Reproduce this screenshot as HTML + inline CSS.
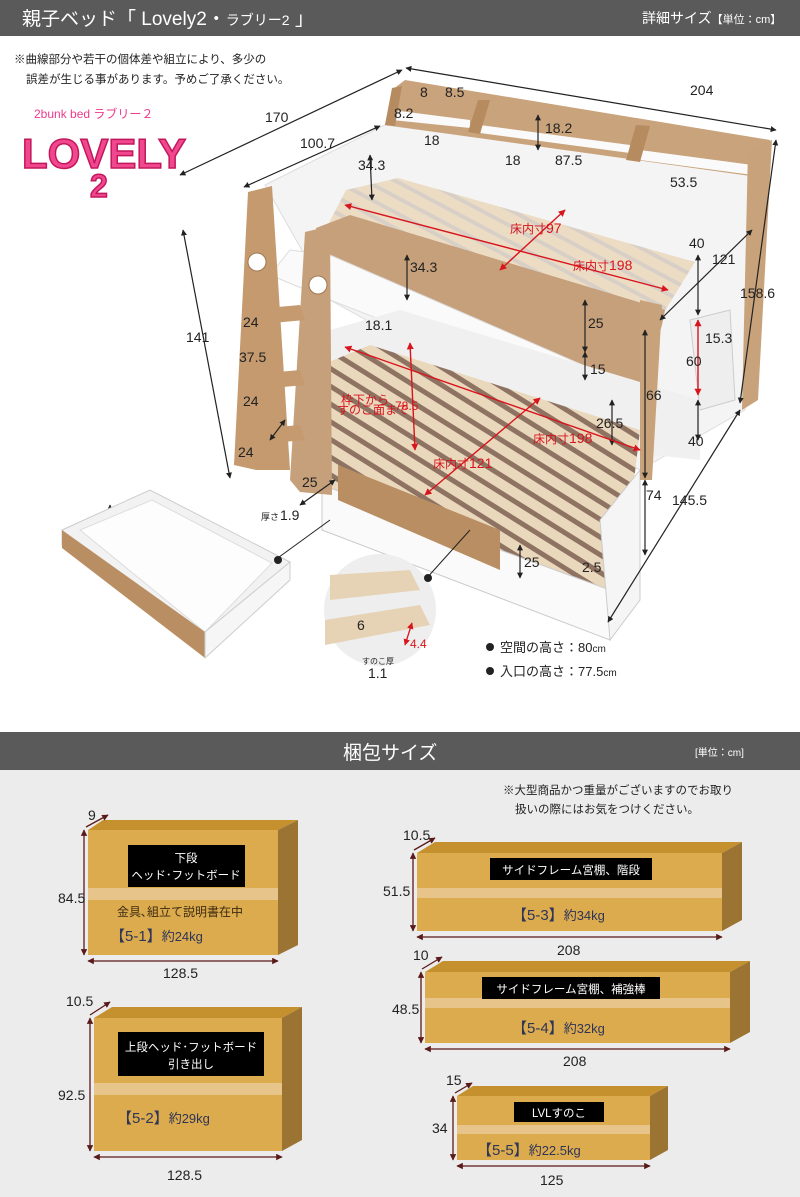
<!DOCTYPE html>
<html><head><meta charset="utf-8"><style>
html,body{margin:0;padding:0;background:#fff}
svg{display:block}
text{font-family:"Liberation Sans Narrow","Liberation Sans","Noto Sans CJK JP",sans-serif;fill:#222}
.j{font-family:"Liberation Sans","Noto Sans CJK JP",sans-serif}
.d{font-size:14px}
.r{fill:#d8141c;font-size:12px}
</style></head><body>
<svg width="800" height="1197" viewBox="0 0 800 1197" xmlns="http://www.w3.org/2000/svg">
<defs>
<marker id="a" viewBox="0 0 10 10" refX="9" refY="5" markerWidth="5" markerHeight="5" orient="auto-start-reverse"><path d="M0,0L10,5L0,10z" fill="#222"/></marker>
<marker id="ar" viewBox="0 0 10 10" refX="9" refY="5" markerWidth="5" markerHeight="5" orient="auto-start-reverse"><path d="M0,0L10,5L0,10z" fill="#d8141c"/></marker>
<marker id="am" viewBox="0 0 10 10" refX="9" refY="5" markerWidth="5" markerHeight="5" orient="auto-start-reverse"><path d="M0,0L10,5L0,10z" fill="#5a1a1a"/></marker>
<pattern id="slat" width="14" height="14" patternUnits="userSpaceOnUse" patternTransform="rotate(-62)"><rect width="14" height="14" fill="#d8d0c6"/><rect width="10" height="14" fill="#ecdcc4"/></pattern>
<pattern id="slat2" width="15" height="15" patternUnits="userSpaceOnUse" patternTransform="rotate(-58)"><rect width="15" height="15" fill="#8e7362"/><rect width="10" height="15" fill="#ead8bd"/></pattern>
</defs>
<!-- header -->
<rect x="0" y="0" width="800" height="36" fill="#5a5a5a"/>
<text x="22" y="25" class="j" font-size="19" style="fill:#fff">親子ベッド「 Lovely2・<tspan font-size="14">ラブリー2</tspan> 」</text>
<text x="642" y="23" class="j" font-size="14" style="fill:#fff">詳細サイズ<tspan font-size="11">【単位：cm】</tspan></text>
<text x="14" y="63" class="j" font-size="11.5">※曲線部分や若干の個体差や組立により、多少の</text>
<text x="26" y="83" class="j" font-size="11.5">誤差が生じる事があります。予めご了承ください。</text>
<text x="34" y="118" class="j" font-size="12" style="fill:#ee3a8c">2bunk bed  ラブリー２</text>
<text x="22" y="168" font-size="42" font-weight="bold" style="fill:#f0478f;stroke:#c2185b;stroke-width:1.5" font-family="Liberation Sans">LOVELY</text>
<text x="90" y="197" font-size="32" font-weight="bold" style="fill:#f0478f;stroke:#c2185b;stroke-width:1.5" font-family="Liberation Sans">2</text>

<!-- bed drawing -->
<polygon points="265,185 385,125 765,175 745,410 640,470 330,300" fill="#f4f4f4" stroke="#ddd"/>
<!-- headboard -->
<polygon points="385,125 392,90 405,80 770,140 765,178" fill="#c9a37c"/>
<polygon points="392,110 470,120 470,128 392,120" fill="#fafafa"/>
<polygon points="480,125 630,145 630,153 480,133" fill="#fafafa"/>
<polygon points="640,150 760,166 760,176 640,160" fill="#fafafa"/>
<polygon points="385,125 392,88 402,86 395,126" fill="#b68b5f"/>
<polygon points="468,132 478,100 490,100 480,134" fill="#b68b5f"/>
<polygon points="626,160 636,125 650,126 640,162" fill="#b68b5f"/>
<polygon points="748,150 772,140 758,400 742,410" fill="#c8a27a"/>
<polygon points="690,320 730,310 735,400 700,410" fill="#eee" stroke="#ccc"/>
<!-- upper slats -->
<polygon points="346,190 398,178 695,262 650,335 320,240" fill="url(#slat)"/>
<!-- upper front wood rail -->
<polygon points="316,228 350,215 665,310 662,325 640,395 330,283" fill="#c6a07a"/>
<polygon points="290,250 330,255 640,390 640,420 330,300 270,275" fill="#fafafa" stroke="#ddd"/>
<!-- lower back wall -->
<polygon points="330,330 400,310 700,400 700,460 330,420" fill="#f0f0f0"/>
<!-- lower slats -->
<polygon points="322,365 370,345 640,430 620,600 565,592 322,485" fill="url(#slat2)"/>
<!-- lower front rail -->
<polygon points="322,485 610,590 610,640 322,530" fill="#fafafa" stroke="#ccc"/>
<polygon points="338,465 500,530 500,570 338,500" fill="#b98e62"/>
<polygon points="600,520 640,470 640,600 610,640" fill="#f5f5f5" stroke="#ccc"/>
<!-- right post -->
<polygon points="640,300 662,305 652,480 640,480" fill="#c8a27a"/>
<!-- ladder -->
<polygon points="248,192 272,186 290,470 256,470 234,465" fill="#c49a6e"/>
<polygon points="305,232 330,226 332,495 300,492 290,480" fill="#c6a07a"/>
<circle cx="257" cy="262" r="9" fill="#fff" stroke="#a07850"/>
<circle cx="318" cy="285" r="9" fill="#fff" stroke="#a07850"/>
<polygon points="245,310 300,305 305,320 250,325" fill="#c49a6e"/>
<polygon points="245,375 300,370 305,385 250,390" fill="#c49a6e"/>
<polygon points="245,430 300,425 305,440 250,445" fill="#c49a6e"/>

<!-- dimension lines -->
<g stroke="#222" stroke-width="1.2" fill="none">
<line x1="180" y1="175" x2="402" y2="70" marker-start="url(#a)" marker-end="url(#a)"/>
<line x1="406" y1="68" x2="776" y2="130" marker-start="url(#a)" marker-end="url(#a)"/>
<line x1="244" y1="187" x2="380" y2="126" marker-start="url(#a)" marker-end="url(#a)"/>
<line x1="183" y1="230" x2="230" y2="478" marker-start="url(#a)" marker-end="url(#a)"/>
<line x1="776" y1="140" x2="740" y2="403" marker-start="url(#a)" marker-end="url(#a)"/>
<line x1="740" y1="410" x2="608" y2="622" marker-start="url(#a)" marker-end="url(#a)"/>
<line x1="370" y1="155" x2="372" y2="200" marker-start="url(#a)" marker-end="url(#a)"/>
<line x1="407" y1="255" x2="407" y2="300" marker-start="url(#a)" marker-end="url(#a)"/>
<line x1="538" y1="115" x2="538" y2="150" marker-start="url(#a)" marker-end="url(#a)"/>
<line x1="585" y1="300" x2="585" y2="352" marker-start="url(#a)" marker-end="url(#a)"/>
<line x1="585" y1="352" x2="585" y2="380" marker-start="url(#a)" marker-end="url(#a)"/>
<line x1="698" y1="255" x2="698" y2="315" marker-start="url(#a)" marker-end="url(#a)"/>
<line x1="698" y1="400" x2="698" y2="440" marker-start="url(#a)" marker-end="url(#a)"/>
<line x1="645" y1="330" x2="645" y2="478" marker-start="url(#a)" marker-end="url(#a)"/>
<line x1="645" y1="480" x2="645" y2="555" marker-start="url(#a)" marker-end="url(#a)"/>
<line x1="660" y1="320" x2="752" y2="230" marker-start="url(#a)" marker-end="url(#a)"/>
<line x1="612" y1="400" x2="612" y2="445" marker-start="url(#a)" marker-end="url(#a)"/>
<line x1="520" y1="545" x2="520" y2="578" marker-start="url(#a)" marker-end="url(#a)"/>
<line x1="300" y1="505" x2="335" y2="480" marker-start="url(#a)" marker-end="url(#a)"/>
<line x1="270" y1="440" x2="285" y2="420" marker-start="url(#a)" marker-end="url(#a)"/>
<line x1="110" y1="505" x2="110" y2="525" marker-start="url(#a)" marker-end="url(#a)"/>
<line x1="185" y1="605" x2="250" y2="545" marker-start="url(#a)" marker-end="url(#a)"/>
<line x1="95" y1="540" x2="205" y2="615" marker-start="url(#a)" marker-end="url(#a)"/>
</g>
<g stroke="#d8141c" stroke-width="1.4">
<line x1="345" y1="205" x2="668" y2="290" marker-start="url(#ar)" marker-end="url(#ar)"/>
<line x1="500" y1="270" x2="565" y2="210" marker-start="url(#ar)" marker-end="url(#ar)"/>
<line x1="345" y1="347" x2="640" y2="450" marker-start="url(#ar)" marker-end="url(#ar)"/>
<line x1="410" y1="343" x2="415" y2="450" marker-start="url(#ar)" marker-end="url(#ar)"/>
<line x1="425" y1="495" x2="540" y2="398" marker-start="url(#ar)" marker-end="url(#ar)"/>
<line x1="698" y1="320" x2="698" y2="395" marker-start="url(#ar)" marker-end="url(#ar)"/>
</g>
<g class="d">
<text x="690" y="95" class="d">204</text>
<text x="265" y="122" class="d">170</text>
<text x="300" y="148" class="d">100.7</text>
<text x="420" y="97" class="d">8</text><text x="445" y="97" class="d">8.5</text>
<text x="394" y="118" class="d">8.2</text>
<text x="424" y="145" class="d">18</text>
<text x="545" y="133" class="d">18.2</text>
<text x="505" y="165" class="d">18</text>
<text x="555" y="165" class="d">87.5</text>
<text x="670" y="187" class="d">53.5</text>
<text x="358" y="170" class="d">34.3</text>
<text x="410" y="272" class="d">34.3</text>
<text x="689" y="248" class="d">40</text>
<text x="712" y="264" class="d">121</text>
<text x="740" y="298" class="d">158.6</text>
<text x="705" y="343" class="d">15.3</text>
<text x="686" y="366" class="d">60</text>
<text x="688" y="446" class="d">40</text>
<text x="588" y="328" class="d">25</text>
<text x="590" y="374" class="d">15</text>
<text x="646" y="400" class="d">66</text>
<text x="596" y="428" class="d">26.5</text>
<text x="646" y="500" class="d">74</text>
<text x="672" y="505" class="d">145.5</text>
<text x="186" y="342" class="d">141</text>
<text x="243" y="327" class="d">24</text>
<text x="239" y="362" class="d">37.5</text>
<text x="243" y="406" class="d">24</text>
<text x="238" y="457" class="d">24</text>
<text x="365" y="330" class="d">18.1</text>
<text x="302" y="487" class="d">25</text>
<text x="261" y="520" font-size="9" class="j">厚さ</text><text x="280" y="520" class="d">1.9</text>
<text x="117" y="518" class="d">8.5</text>
<text x="243" y="575" class="d">59</text>
<text x="210" y="616" class="d">90</text>
<text x="524" y="567" class="d">25</text>
<text x="582" y="572" class="d">2.5</text>
</g>
<text x="510" y="233" class="r j">床内寸<tspan font-size="14">97</tspan></text>
<text x="573" y="270" class="r j">床内寸<tspan font-size="14">198</tspan></text>
<text x="533" y="443" class="r j">床内寸<tspan font-size="14">198</tspan></text>
<text x="433" y="468" class="r j">床内寸<tspan font-size="14">121</tspan></text>
<text x="341" y="404" class="r j" font-size="9">枠下から</text>
<text x="337" y="414" class="r j" font-size="9">すのこ面まで</text>
<text x="395" y="410" class="r" font-size="15">78.5</text>
<!-- left drawer -->
<polygon points="62,530 150,490 290,562 205,655 62,545" fill="#f2f2f2" stroke="#ccc"/>
<polygon points="80,530 152,500 272,563 205,632" fill="#fdfdfd" stroke="#ddd"/>
<polygon points="62,530 205,632 205,658 62,548" fill="#b98e62"/>
<polygon points="205,632 290,562 290,580 205,658" fill="#f6f6f6" stroke="#ccc"/>
<line x1="275" y1="560" x2="330" y2="520" stroke="#222"/>
<circle cx="278" cy="560" r="4" fill="#222"/>
<!-- inset circle -->
<circle cx="380" cy="610" r="56" fill="#eee"/>
<polygon points="330,575 410,570 420,590 330,600" fill="#e6d2b4"/>
<polygon points="325,620 420,605 430,625 325,645" fill="#e6d2b4"/>
<line x1="425" y1="580" x2="470" y2="530" stroke="#222"/>
<circle cx="428" cy="578" r="4" fill="#222"/>
<text x="357" y="630" class="d">6</text>
<line x1="412" y1="623" x2="405" y2="645" stroke="#d8141c" stroke-width="1.3" marker-start="url(#ar)" marker-end="url(#ar)"/>
<text x="410" y="648" class="r" font-size="13">4.4</text>
<text x="362" y="664" class="j" font-size="8">すのこ厚</text>
<text x="368" y="678" class="d">1.1</text>
<circle cx="490" cy="647" r="4" fill="#222"/>
<text x="500" y="652" class="j" font-size="13">空間の高さ：80<tspan font-size="10">cm</tspan></text>
<circle cx="490" cy="671" r="4" fill="#222"/>
<text x="500" y="676" class="j" font-size="13">入口の高さ：77.5<tspan font-size="10">cm</tspan></text>

<!-- packaging section -->
<rect x="0" y="732" width="800" height="38" fill="#5a5a5a"/>
<rect x="0" y="770" width="800" height="427" fill="#ececec"/>
<text x="343" y="759" class="j" font-size="19" style="fill:#fff">梱包サイズ</text>
<text x="695" y="756" class="j" font-size="10" style="fill:#fff">[単位：cm]</text>
<text x="503" y="794" class="j" font-size="11.5">※大型商品かつ重量がございますのでお取り</text>
<text x="515" y="813" class="j" font-size="11.5">扱いの際にはお気をつけください。</text>

<g>
<polygon points="88,830 103,820 298,820 278,830" fill="#c5912f"/>
<polygon points="278,830 298,820 298,945 278,955" fill="#9b7434"/>
<rect x="88" y="830" width="190" height="125" fill="#dcab4e"/>
<rect x="88" y="888" width="190" height="12" fill="#e6c48a"/>
<rect x="128" y="845" width="117" height="42" fill="#000"/>
<text x="186" y="862" text-anchor="middle" class="j" font-size="11.5" style="fill:#fff">下段</text>
<text x="186" y="879" text-anchor="middle" class="j" font-size="11.5" style="fill:#fff">ヘッド･フットボード</text>
<text x="117" y="916" class="j" font-size="12" style="fill:#3d2b10">金具､組立て説明書在中</text>
<text x="110" y="941" class="j" font-size="15" style="fill:#2e3558">【5-1】<tspan font-size="13">約24kg</tspan></text>
</g>
<g>
<polygon points="94,1018 112,1007 302,1007 282,1018" fill="#c5912f"/>
<polygon points="282,1018 302,1007 302,1140 282,1151" fill="#9b7434"/>
<rect x="94" y="1018" width="188" height="133" fill="#dcab4e"/>
<rect x="94" y="1083" width="188" height="12" fill="#e6c48a"/>
<rect x="118" y="1032" width="146" height="44" fill="#000"/>
<text x="191" y="1051" text-anchor="middle" class="j" font-size="11.5" style="fill:#fff">上段ヘッド･フットボード</text>
<text x="191" y="1068" text-anchor="middle" class="j" font-size="11.5" style="fill:#fff">引き出し</text>
<text x="117" y="1123" class="j" font-size="15" style="fill:#2e3558">【5-2】<tspan font-size="13">約29kg</tspan></text>
</g>
<g>
<polygon points="417,853 435,842 742,842 722,853" fill="#c5912f"/>
<polygon points="722,853 742,842 742,920 722,931" fill="#9b7434"/>
<rect x="417" y="853" width="305" height="78" fill="#dcab4e"/>
<rect x="417" y="888" width="305" height="10" fill="#e6c48a"/>
<rect x="490" y="858" width="162" height="22" fill="#000"/>
<text x="571" y="874" text-anchor="middle" class="j" font-size="11.5" style="fill:#fff">サイドフレーム宮棚、階段</text>
<text x="512" y="920" class="j" font-size="15" style="fill:#2e3558">【5-3】<tspan font-size="13">約34kg</tspan></text>
</g>
<g>
<polygon points="425,972 443,961 750,961 730,972" fill="#c5912f"/>
<polygon points="730,972 750,961 750,1032 730,1043" fill="#9b7434"/>
<rect x="425" y="972" width="305" height="71" fill="#dcab4e"/>
<rect x="425" y="998" width="305" height="10" fill="#e6c48a"/>
<rect x="482" y="977" width="178" height="22" fill="#000"/>
<text x="571" y="993" text-anchor="middle" class="j" font-size="11.5" style="fill:#fff">サイドフレーム宮棚、補強棒</text>
<text x="512" y="1033" class="j" font-size="15" style="fill:#2e3558">【5-4】<tspan font-size="13">約32kg</tspan></text>
</g>
<g>
<polygon points="457,1096 473,1086 668,1086 650,1096" fill="#c5912f"/>
<polygon points="650,1096 668,1086 668,1150 650,1160" fill="#9b7434"/>
<rect x="457" y="1096" width="193" height="64" fill="#dcab4e"/>
<rect x="457" y="1125" width="193" height="9" fill="#e6c48a"/>
<rect x="514" y="1102" width="90" height="20" fill="#000"/>
<text x="559" y="1117" text-anchor="middle" class="j" font-size="11.5" style="fill:#fff">LVLすのこ</text>
<text x="477" y="1155" class="j" font-size="15" style="fill:#2e3558">【5-5】<tspan font-size="13">約22.5kg</tspan></text>
</g>
<g stroke="#5a1a1a" stroke-width="1.3">
<line x1="84" y1="830" x2="84" y2="955" marker-start="url(#am)" marker-end="url(#am)"/>
<line x1="88" y1="961" x2="278" y2="961" marker-start="url(#am)" marker-end="url(#am)"/>
<line x1="86" y1="827" x2="108" y2="815" marker-end="url(#am)"/>
<line x1="90" y1="1018" x2="90" y2="1151" marker-start="url(#am)" marker-end="url(#am)"/>
<line x1="94" y1="1157" x2="282" y2="1157" marker-start="url(#am)" marker-end="url(#am)"/>
<line x1="90" y1="1015" x2="110" y2="1002" marker-end="url(#am)"/>
<line x1="413" y1="853" x2="413" y2="931" marker-start="url(#am)" marker-end="url(#am)"/>
<line x1="417" y1="937" x2="722" y2="937" marker-start="url(#am)" marker-end="url(#am)"/>
<line x1="414" y1="850" x2="435" y2="838" marker-end="url(#am)"/>
<line x1="421" y1="972" x2="421" y2="1043" marker-start="url(#am)" marker-end="url(#am)"/>
<line x1="425" y1="1049" x2="730" y2="1049" marker-start="url(#am)" marker-end="url(#am)"/>
<line x1="422" y1="969" x2="442" y2="957" marker-end="url(#am)"/>
<line x1="453" y1="1096" x2="453" y2="1160" marker-start="url(#am)" marker-end="url(#am)"/>
<line x1="457" y1="1166" x2="650" y2="1166" marker-start="url(#am)" marker-end="url(#am)"/>
<line x1="455" y1="1093" x2="472" y2="1083" marker-end="url(#am)"/>
</g>
<g font-size="14">
<text x="88" y="820">9</text>
<text x="58" y="903">84.5</text>
<text x="163" y="978">128.5</text>
<text x="66" y="1006">10.5</text>
<text x="58" y="1100">92.5</text>
<text x="167" y="1180">128.5</text>
<text x="403" y="840">10.5</text>
<text x="383" y="896">51.5</text>
<text x="557" y="955">208</text>
<text x="413" y="960">10</text>
<text x="392" y="1014">48.5</text>
<text x="563" y="1066">208</text>
<text x="446" y="1085">15</text>
<text x="432" y="1133">34</text>
<text x="540" y="1185">125</text>
</g>
</svg>
</body></html>
